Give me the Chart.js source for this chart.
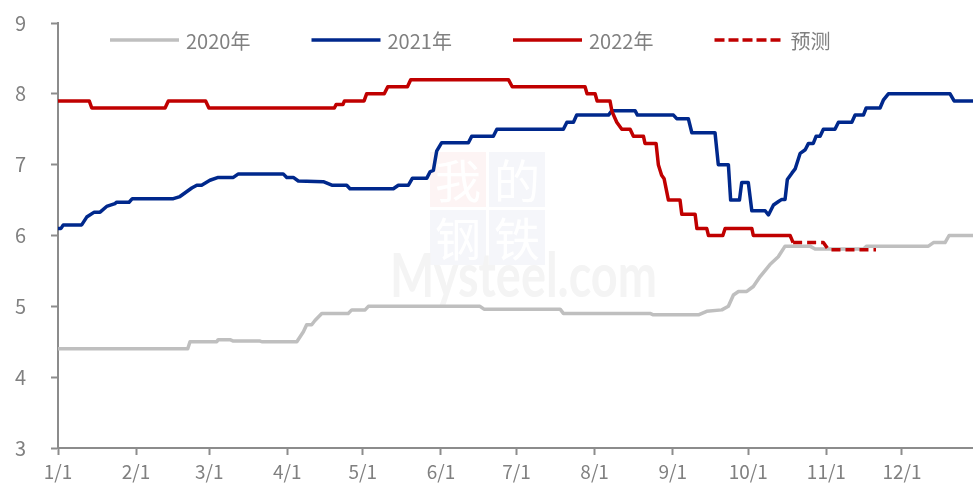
<!DOCTYPE html>
<html>
<head>
<meta charset="utf-8">
<script src="https://cdn.jsdelivr.net/npm/chart.js@4.4.0/dist/chart.umd.min.js"></script>
<style>
    html, body { margin: 0; padding: 0; background: #fff; }
    #wrap { width: 973px; height: 485px; }
</style>
</head>
<body>
<div id="wrap"><canvas id="chart"></canvas></div>
<script>
// x = day of year (leap-year calendar), y = value
const monthDays = [0, 31, 60, 91, 121, 152, 182, 213, 244, 274, 305, 335];
const monthLabels = ["1/1", "2/1", "3/1", "4/1", "5/1", "6/1", "7/1", "8/1", "9/1", "10/1", "11/1", "12/1"];

const days2020 = [0, 51.5, 52.4, 63, 63.6, 68.3, 69.6, 80.2, 80.9, 94.8, 97.4, 98.7, 100.7, 102, 104.7, 115.2, 116.6, 121.9, 123.2, 167.5, 169.1, 199.3, 200.6, 235, 236.3, 254.2, 257.5, 263.5, 266.1, 268.1, 270.1, 273.4, 276, 278.7, 282.6, 285.9, 288.6, 298.5, 300.5, 319.7, 321, 345.5, 347.5, 352.1, 353.7, 366];
const vals2020 = [4.4, 4.4, 4.5, 4.5, 4.53, 4.53, 4.51, 4.51, 4.5, 4.5, 4.64, 4.74, 4.74, 4.8, 4.9, 4.9, 4.95, 4.95, 5.0, 5.0, 4.96, 4.96, 4.9, 4.9, 4.88, 4.88, 4.93, 4.95, 5.0, 5.16, 5.21, 5.21, 5.28, 5.42, 5.59, 5.7, 5.85, 5.85, 5.81, 5.81, 5.85, 5.85, 5.9, 5.9, 6.0, 6.0];

const days2021 = [0, 1.2, 2.1, 9.4, 11.4, 14.4, 16.7, 19.3, 22.6, 23.3, 28.2, 29.5, 45.8, 48.4, 53.1, 55.1, 57, 60.3, 63.6, 69.6, 71.6, 89.4, 90.8, 93.4, 95.4, 105.3, 108.7, 114.6, 115.9, 133.1, 135.1, 139.1, 140.7, 146.4, 147.7, 149, 150.3, 152.3, 162.9, 164.2, 172.8, 174.2, 200.6, 202, 204.6, 205.9, 218.5, 219.8, 229.1, 230, 244.3, 245.6, 250.2, 251.6, 260.8, 262.1, 266.1, 267, 270.5, 271.4, 274, 275.4, 280.7, 282, 284, 286, 287.3, 288.6, 289.5, 291.3, 292.6, 294.6, 296.6, 297.9, 299.8, 300.9, 302.5, 303.8, 308.4, 309.8, 315.1, 316.4, 319.7, 320.8, 326.3, 327.6, 329.6, 354.1, 355.7, 366];
const vals2021 = [6.1, 6.1, 6.15, 6.15, 6.26, 6.33, 6.33, 6.41, 6.45, 6.47, 6.47, 6.52, 6.52, 6.55, 6.67, 6.71, 6.71, 6.78, 6.82, 6.82, 6.87, 6.87, 6.82, 6.82, 6.77, 6.76, 6.71, 6.71, 6.66, 6.66, 6.71, 6.71, 6.81, 6.81, 6.9, 6.92, 7.19, 7.31, 7.31, 7.4, 7.4, 7.5, 7.5, 7.6, 7.6, 7.7, 7.7, 7.76, 7.76, 7.7, 7.7, 7.65, 7.65, 7.45, 7.45, 7.0, 7.0, 6.5, 6.5, 6.75, 6.75, 6.35, 6.35, 6.29, 6.43, 6.48, 6.51, 6.51, 6.79, 6.88, 6.94, 7.16, 7.21, 7.3, 7.3, 7.4, 7.4, 7.5, 7.5, 7.6, 7.6, 7.7, 7.7, 7.8, 7.8, 7.91, 8.0, 8.0, 7.9, 7.9];

const days2022 = [0, 12.4, 13.4, 42.5, 43.8, 58.6, 59.9, 109.7, 110.4, 113.1, 113.7, 121.5, 122.5, 129.5, 130.9, 138.7, 140, 178.8, 180.3, 209.2, 210, 213.2, 214, 219.1, 219.9, 221.8, 223.8, 227.1, 228.4, 232.4, 233, 237.4, 238.3, 239.6, 240.6, 242.3, 246.9, 247.6, 252.9, 253.6, 257.5, 258.2, 263.9, 264.8, 275.4, 276, 290.6, 291.8];
const vals2022 = [7.9, 7.9, 7.8, 7.8, 7.9, 7.9, 7.8, 7.8, 7.85, 7.85, 7.9, 7.9, 8.0, 8.0, 8.1, 8.1, 8.2, 8.2, 8.1, 8.1, 8.0, 8.0, 7.9, 7.9, 7.75, 7.6, 7.5, 7.5, 7.4, 7.4, 7.3, 7.3, 7.0, 6.85, 6.8, 6.5, 6.5, 6.3, 6.3, 6.1, 6.1, 6.0, 6.0, 6.1, 6.1, 6.0, 6.0, 5.9];

const daysForecast = [291.8, 303.8, 305.8, 324.7];
const valsForecast = [5.9, 5.9, 5.8, 5.8];

const toPoints = (xs, ys) => xs.map((x, i) => ({ x: x, y: ys[i] }));

const axisColor = "#8c8c8c";
const textColor = "#808080";
const fontFamily = "'DengXian', 'Noto Sans CJK SC', sans-serif";

// watermark behind the lines
const watermark = {
    id: "watermark",
    beforeDatasetsDraw(chart) {
        const ctx = chart.ctx;
        ctx.save();
        const cells = [
            { t: "我", x: 430, y: 152, bg: "#fdf4f4" },
            { t: "的", x: 489, y: 152, bg: "#f5f6fa" },
            { t: "钢", x: 430, y: 210, bg: "#f5f6fa" },
            { t: "铁", x: 489, y: 210, bg: "#f5f6fa" }
        ];
        cells.forEach(c => {
            ctx.fillStyle = c.bg;
            ctx.fillRect(c.x, c.y, 56, 55);
            ctx.fillStyle = "#ffffff";
            ctx.font = "46px 'Noto Sans CJK SC'";
            ctx.textAlign = "center";
            ctx.textBaseline = "middle";
            ctx.fillText(c.t, c.x + 28, c.y + 29);
        });
        ctx.fillStyle = "#f4f4f4";
        ctx.font = "bold 62px Lato";
        ctx.textAlign = "left";
        ctx.textBaseline = "alphabetic";
        ctx.fillText("Mysteel.com", 390, 297, 267);
        ctx.restore();
    }
};

// one-row legend inside the plot, like the original
const legendRow = {
    id: "legendRow",
    afterDatasetsDraw(chart) {
        const ctx = chart.ctx;
        ctx.save();
        chart.data.datasets.forEach((ds, i) => {
            const x0 = 110 + i * 201.5;
            const y0 = 40;
            ctx.strokeStyle = ds.borderColor;
            ctx.lineWidth = 3.5;
            ctx.lineCap = "butt";
            ctx.setLineDash(ds.borderDash ? [10, 4] : []);
            ctx.beginPath();
            ctx.moveTo(x0, y0);
            ctx.lineTo(x0 + 69, y0);
            ctx.stroke();
            ctx.setLineDash([]);
            ctx.fillStyle = textColor;
            ctx.font = "20px " + fontFamily;
            ctx.textAlign = "left";
            ctx.textBaseline = "middle";
            ctx.fillText(ds.label, x0 + 76, y0 + 1);
        });
        ctx.restore();
    }
};

new Chart(document.getElementById("chart"), {
    type: "line",
    data: {
        datasets: [{
            label: "2020年",
            data: toPoints(days2020, vals2020),
            borderColor: "#bfbfbf",
            backgroundColor: "#bfbfbf",
            order: 3
        }, {
            label: "2021年",
            data: toPoints(days2021, vals2021),
            borderColor: "#00288c",
            backgroundColor: "#00288c",
            order: 2
        }, {
            label: "2022年",
            data: toPoints(days2022, vals2022),
            borderColor: "#c00000",
            backgroundColor: "#c00000",
            order: 1
        }, {
            label: "预测",
            data: toPoints(daysForecast, valsForecast),
            borderColor: "#c00000",
            backgroundColor: "#c00000",
            borderDash: [9, 5],
            order: 0
        }]
    },
    options: {
        responsive: true,
        maintainAspectRatio: false,
        animation: false,
        layout: {
            padding: { top: 23, right: 0, bottom: 0, left: 0 }
        },
        elements: {
            point: { radius: 0 },
            line: { borderWidth: 3.5, tension: 0, borderJoinStyle: "round", borderCapStyle: "butt" }
        },
        plugins: {
            tooltip: { enabled: false },
            legend: { display: false }
        },
        scales: {
            x: {
                type: "linear",
                min: 0,
                max: 363.2,
                afterBuildTicks: (scale) => {
                    scale.ticks = monthDays.map(d => ({ value: d }));
                },
                afterFit: (scale) => {
                    scale.height = 37;
                },
                ticks: {
                    autoSkip: false,
                    maxRotation: 0,
                    padding: 5,
                    color: textColor,
                    font: { family: fontFamily, size: 19 },
                    callback: (value, index) => monthLabels[index]
                },
                grid: {
                    drawOnChartArea: false,
                    drawTicks: true,
                    tickLength: 7,
                    tickColor: axisColor,
                    tickWidth: 2
                },
                border: { color: axisColor, width: 2 }
            },
            y: {
                min: 3,
                max: 9,
                afterFit: (scale) => {
                    // tick padding should not push the plot down
                    scale.width = 58;
                    scale.paddingTop = 12;
                    scale.paddingBottom = 12;
                },
                ticks: {
                    stepSize: 1,
                    padding: 25,
                    color: textColor,
                    font: { family: fontFamily, size: 20 }
                },
                grid: {
                    drawOnChartArea: false,
                    drawTicks: true,
                    tickLength: 7,
                    tickColor: axisColor,
                    tickWidth: 2
                },
                border: { color: axisColor, width: 2 }
            }
        }
    },
    plugins: [watermark, legendRow]
});
</script>
</body>
</html>
